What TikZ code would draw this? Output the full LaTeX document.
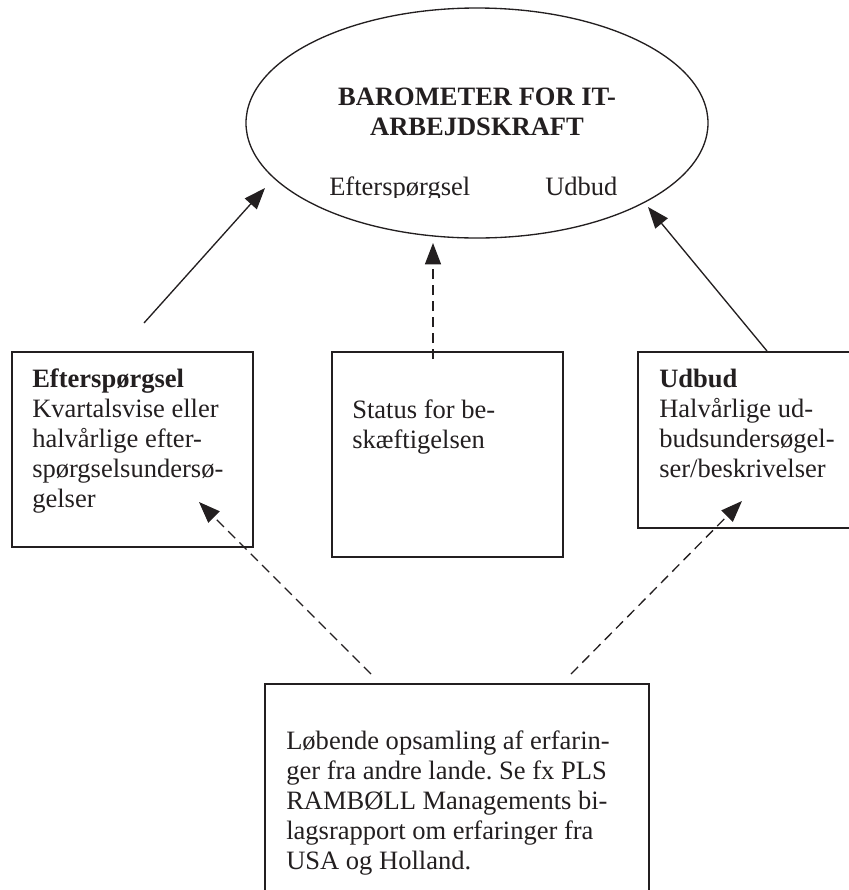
\documentclass[tikz,border=0pt]{standalone}
\usepackage{fontspec}
\setmainfont{Liberation Serif}
\usetikzlibrary{arrows.meta,shapes.geometric}
\definecolor{ink}{HTML}{231F20}
\frenchspacing

\tikzset{
  txt/.style={font=\fontsize{19.9}{22.5}\selectfont, text=ink, inner sep=0pt, anchor=base west},
  frame/.style={draw=ink, line width=1.3pt, inner sep=0pt, anchor=north west},
  solidarrow/.style={draw=ink, line width=1pt, -{Triangle[length=16pt,width=12pt]}},
  dasharrow/.style={solidarrow, dash pattern=on 7.5pt off 4.5pt},
}

\begin{document}
\begin{tikzpicture}[x=0.75pt, y=-0.75pt]
  \useasboundingbox (0,0) rectangle (849,890);
  \clip (0,0) rectangle (849,890);

  % central barometer ellipse
  \node[ellipse, draw=ink, line width=1pt, inner sep=0pt,
        minimum width=346.5pt, minimum height=172.5pt] (baro) at (477,123) {};
  \node[txt, anchor=base, font=\fontsize{19.9}{22.5}\selectfont\bfseries] (title) at (477,105)
    {\begin{tabular}[t]{@{}c@{}}BAROMETER FOR IT-\\ARBEJDSKRAFT\end{tabular}};
  \begin{scope}
    \clip (300,150) rectangle (650,197.5);
    \node[txt] (barodemand) at (329,195) {Efterspørgsel};
    \node[txt] (barosupply) at (545,195) {Udbud};
  \end{scope}

  % source boxes
  \node[frame, minimum width=180.75pt, minimum height=146.25pt] (demandbox) at (11,351) {};
  \node[frame, minimum width=173.25pt, minimum height=153.75pt] (statusbox) at (331,351) {};
  \node[frame, minimum width=174.75pt, minimum height=132pt] (supplybox) at (637,351) {};
  \node[frame, minimum width=288pt, minimum height=165pt] (abroadbox) at (264,683) {};

  \node[txt] (demandtext) at (32,387)
    {\begin{tabular}[t]{@{}l@{}}\textbf{Efterspørgsel}\\Kvartalsvise eller\\halvårlige efter-\\spørgselsundersø-\\gelser\end{tabular}};
  \node[txt] (statustext) at (352,418)
    {\begin{tabular}[t]{@{}l@{}}Status for be-\\skæftigelsen\end{tabular}};
  \node[txt] (supplytext) at (659,387)
    {\begin{tabular}[t]{@{}l@{}}\textbf{Udbud}\\Halvårlige ud-\\budsundersøgel-\\ser/beskrivelser\end{tabular}};
  \node[txt] (abroadtext) at (286,749)
    {\begin{tabular}[t]{@{}l@{}}Løbende opsamling af erfarin-\\ger fra andre lande. Se fx PLS\\RAMBØLL Managements bi-\\lagsrapport om erfaringer fra\\USA og Holland.\end{tabular}};

  % connector ends
  \coordinate (d1) at (144,323);
  \coordinate (d2) at (265,188);
  \coordinate (s1) at (433,359);
  \coordinate (s2) at (433,243);
  \coordinate (u1) at (767,351);
  \coordinate (u2) at (648,207);
  \coordinate (l1) at (371,674);
  \coordinate (l2) at (199,502);
  \coordinate (r1) at (571,674);
  \coordinate (r2) at (742,501);

  \draw[solidarrow] (d1) -- (d2);
  \draw[dasharrow] (s1) -- (s2);
  \draw[solidarrow] (u1) -- (u2);
  \draw[dasharrow] (l1) -- (l2);
  \draw[dasharrow] (r1) -- (r2);
\end{tikzpicture}
\end{document}
